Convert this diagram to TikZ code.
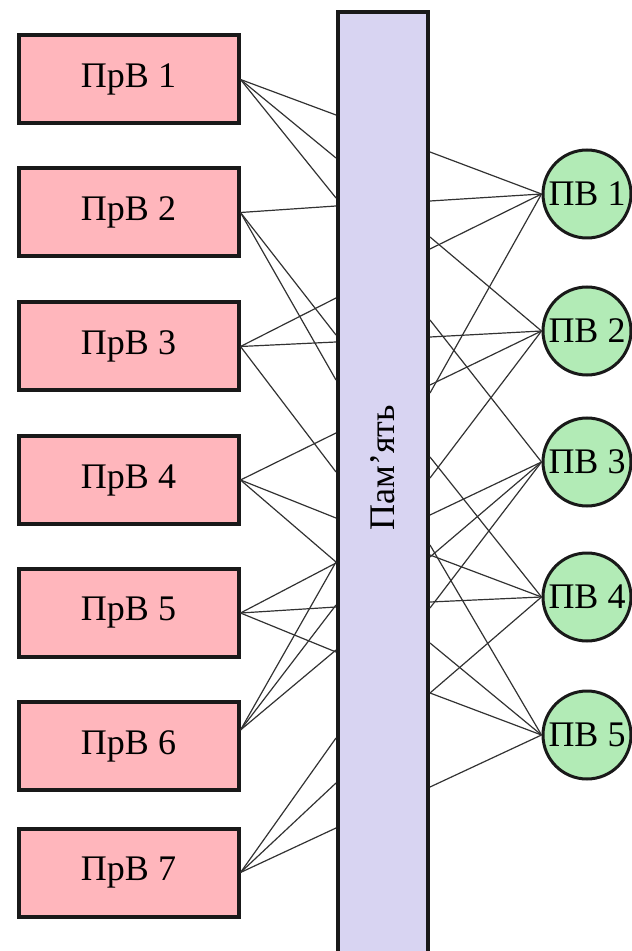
\documentclass[tikz,border=0pt]{standalone}
\usepackage{fontspec}
\setmainfont{Liberation Serif}
\definecolor{ProcClr}{RGB}{255,182,188}
\definecolor{MemClr}{RGB}{216,212,242}
\definecolor{DevClr}{RGB}{178,235,182}
\definecolor{WireClr}{RGB}{50,50,50}

\begin{document}
\begin{tikzpicture}[x=0.5pt,y=-0.5pt,
  procbox/.style={draw=black!90,fill=ProcClr,line width=2pt,minimum width=110pt,minimum height=44pt,font=\fontsize{18}{21}\selectfont},
  membar/.style={draw=black!90,fill=MemClr,line width=2pt,minimum width=45pt,minimum height=484pt},
  devnode/.style={circle,draw=black!90,fill=DevClr,line width=1.5pt,minimum size=44pt,inner sep=0pt,font=\fontsize{18}{21}\selectfont},
  wire/.style={draw=WireClr,line width=0.6pt}]
\useasboundingbox (0,0) rectangle (631,951);

% Memory bar.
\node[membar] (mem) at (383,496) {};
\node[rotate=90,font=\fontsize{18}{21}\selectfont] (memlbl) at (383,468) {Пам’ять};

% Processors.
\node[procbox] (b1) at (128.5,79.5) {ПрВ 1};
\node[procbox] (b2) at (128.5,212.5) {ПрВ 2};
\node[procbox] (b3) at (128.5,346.5) {ПрВ 3};
\node[procbox] (b4) at (128.5,480) {ПрВ 4};
\node[procbox] (b5) at (128.5,613) {ПрВ 5};
\node[procbox] (b6) at (128.5,746) {ПрВ 6};
\node[procbox] (b7) at (128.5,872.5) {ПрВ 7};
\coordinate (b6o) at ([yshift=8pt]b6.east);

% Devices.
\node[devnode] (c1) at (587,194) {ПВ 1};
\node[devnode] (c2) at (587,331) {ПВ 2};
\node[devnode] (c3) at (587,462) {ПВ 3};
\node[devnode] (c4) at (587,597) {ПВ 4};
\node[devnode] (c5) at (587,735) {ПВ 5};

% Processors to memory.
\foreach \y in {115,158,198} \draw[wire] (b1.east) -- (mem.west |- 0,\y);
\foreach \y in {206,335,380} \draw[wire] (b2.east) -- (mem.west |- 0,\y);
\foreach \y in {298,342,472} \draw[wire] (b3.east) -- (mem.west |- 0,\y);
\foreach \y in {433,518,562} \draw[wire] (b4.east) -- (mem.west |- 0,\y);
\foreach \y in {563,607,652} \draw[wire] (b5.east) -- (mem.west |- 0,\y);
\foreach \y in {562,605,650} \draw[wire] (b6o) -- (mem.west |- 0,\y);
\foreach \y in {738,783,828} \draw[wire] (b7.east) -- (mem.west |- 0,\y);

% Memory to devices.
\foreach \y in {152,201,249,393} \draw[wire] (mem.east |- 0,\y) -- (c1.west);
\foreach \y in {237,337,385,478} \draw[wire] (mem.east |- 0,\y) -- (c2.west);
\foreach \y in {320,515,557,608} \draw[wire] (mem.east |- 0,\y) -- (c3.west);
\foreach \y in {457,555,602,693} \draw[wire] (mem.east |- 0,\y) -- (c4.west);
\foreach \y in {545,643,693,787} \draw[wire] (mem.east |- 0,\y) -- (c5.west);

\end{tikzpicture}
\end{document}
